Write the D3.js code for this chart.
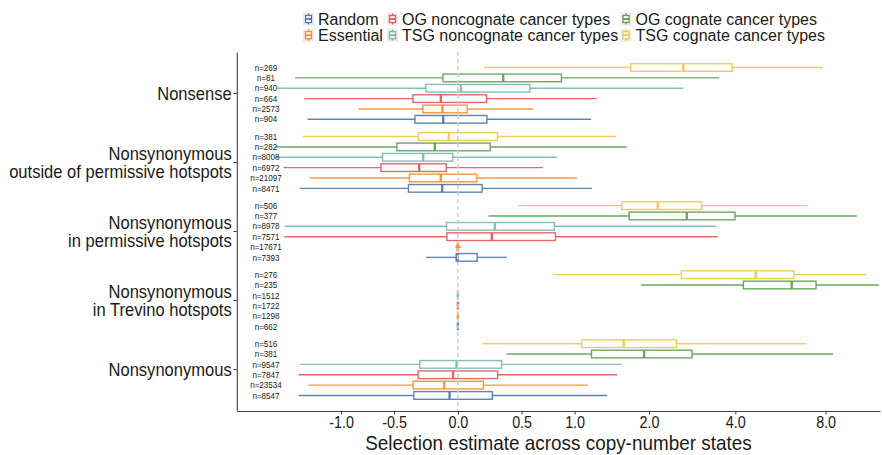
<!DOCTYPE html>
<html>
<head>
<meta charset="utf-8">
<script src="https://cdn.jsdelivr.net/npm/d3@7"></script>
<style>
  body { margin: 0; background: #fff; }
  text { font-family: "Liberation Sans", Arial, Helvetica, sans-serif; fill: #1a1a1a; }
</style>
</head>
<body>
<svg id="chart" width="882" height="455"></svg>
<script>
"use strict";

// categories, top to bottom
const categories = [
    "Nonsense",
    "Nonsynonymous\noutside of permissive hotspots",
    "Nonsynonymous\nin permissive hotspots",
    "Nonsynonymous\nin Trevino hotspots",
    "Nonsynonymous"
];

// series, in legend order
const series = [
    "Random",
    "Essential",
    "OG noncognate cancer types",
    "TSG noncognate cancer types",
    "OG cognate cancer types",
    "TSG cognate cancer types"
];
const seriesColors = ["#4e79a7", "#f28e2b", "#e15759", "#76b7b2", "#59a14f", "#edc948"];

// box stats per category: [low whisker, q1, median, q3, high whisker]
const randomStats = [
    [-1.395, -0.330, -0.111, 0.221, 1.185],
    [-1.501, -0.382, -0.119, 0.184, 1.193],
    [-0.242, -0.013, -0.003, 0.146, 0.378],
    [0, 0, 0, 0, 0],
    [-1.511, -0.339, -0.063, 0.263, 1.382]
];
const essentialStats = [
    [-0.823, -0.267, -0.117, 0.070, 0.597],
    [-1.369, -0.374, -0.129, 0.144, 1.024],
    [-0.020, -0.005, 0, 0.005, 0.025],
    [0, 0, 0, 0, 0],
    [-1.383, -0.345, -0.104, 0.194, 1.149]
];
const ogNoncognateStats = [
    [-1.438, -0.346, -0.129, 0.218, 1.252],
    [-1.731, -0.614, -0.296, -0.088, 0.686],
    [-1.716, -0.083, 0.259, 0.805, 3.487],
    [0, 0, 0, 0, 0],
    [-1.516, -0.305, -0.036, 0.305, 1.515]
];
const tsgNoncognateStats = [
    [-1.828, -0.244, 0.023, 0.571, 2.653],
    [-1.859, -0.600, -0.265, -0.038, 0.819],
    [-1.716, -0.086, 0.283, 0.795, 3.433],
    [0, 0, 0, 0, 0],
    [-1.487, -0.292, -0.010, 0.336, 1.580]
];
const ogCognateStats = [
    [-1.561, -0.113, 0.349, 0.864, 3.532],
    [-1.859, -0.477, -0.175, 0.246, 1.651],
    [0.233, 1.684, 2.727, 3.992, 10.13],
    [1.864, 4.259, 6.179, 7.438, 12.0],
    [0.376, 1.189, 1.917, 2.845, 8.466]
];
const tsgCognateStats = [
    [0.200, 1.710, 2.653, 3.900, 7.827],
    [-1.456, -0.302, -0.068, 0.303, 1.500],
    [0.474, 1.579, 2.152, 3.074, 6.960],
    [0.780, 2.611, 4.686, 6.288, 10.93],
    [0.185, 1.075, 1.606, 2.509, 6.913]
];

// sample sizes per category
const randomN = [904, 8471, 7393, 662, 8547];
const essentialN = [2573, 21097, 17671, 1298, 23534];
const ogNoncognateN = [664, 6972, 7571, 1722, 7847];
const tsgNoncognateN = [940, 8008, 8978, 1512, 9547];
const ogCognateN = [81, 282, 377, 235, 381];
const tsgCognateN = [269, 381, 506, 276, 516];

// x axis (asinh scale)
const xDomain = [-2.56, 12.09];
const xTicks = [-1, -0.5, 0, 0.5, 1, 2, 4, 8];
const xTickLabels = ["-1.0", "-0.5", "0.0", "0.5", "1.0", "2.0", "4.0", "8.0"];
const xTitle = "Selection estimate across copy-number states";

const stats = [randomStats, essentialStats, ogNoncognateStats, tsgNoncognateStats, ogCognateStats, tsgCognateStats];
const counts = [randomN, essentialN, ogNoncognateN, tsgNoncognateN, ogCognateN, tsgCognateN];

// layout
const plotLeft = 236.8, plotRight = 880, plotTop = 52, plotBottom = 411;
const SX = 0.88; // text in the reference is horizontally squeezed

const svg = d3.select("#chart");

const xt = d3.scaleLinear().domain(xDomain.map(Math.asinh)).range([plotLeft, plotRight]);
const x = v => xt(Math.asinh(v));

const y = d3.scaleBand().domain(categories).range([plotTop, plotBottom])
    .paddingInner(0).paddingOuter(0.1);
const yInner = d3.scaleBand().domain(series.slice().reverse())
    .range([0, y.bandwidth()]).paddingInner(0).paddingOuter(1 / 3);
const color = d3.scaleOrdinal().domain(series).range(seriesColors);

const boxH = yInner.bandwidth() * 0.74;

// flatten into one row per box
const rows = [];
series.forEach((s, si) => {
    categories.forEach((c, ci) => {
        const st = stats[si][ci];
        rows.push({
            s: s, c: c,
            lo: st[0], q1: st[1], med: st[2], q3: st[3], hi: st[4],
            n: counts[si][ci]
        });
    });
});
const rowY = d => y(d.c) + yInner(d.s) + yInner.bandwidth() / 2;

// boxes
const boxes = svg.append("g")
    .selectAll("g.box")
    .data(rows)
    .join("g")
    .attr("class", "box")
    .attr("transform", d => `translate(0,${rowY(d)})`)
    .attr("stroke", d => color(d.s))
    .attr("stroke-opacity", 0.9);

boxes.append("line")
    .attr("x1", d => x(d.lo)).attr("x2", d => x(d.q1))
    .attr("stroke-width", 1.4);
boxes.append("line")
    .attr("x1", d => x(d.q3)).attr("x2", d => x(d.hi))
    .attr("stroke-width", 1.4);
boxes.append("rect")
    .attr("x", d => x(d.q1))
    .attr("width", d => x(d.q3) - x(d.q1))
    .attr("y", -boxH / 2)
    .attr("height", boxH)
    .attr("fill", "#fff")
    .attr("stroke-width", 1.4);
boxes.append("line")
    .attr("x1", d => x(d.med)).attr("x2", d => x(d.med))
    .attr("y1", -boxH / 2).attr("y2", boxH / 2)
    .attr("stroke-width", 2.4);

// dashed zero line
svg.append("line")
    .attr("x1", x(0)).attr("x2", x(0))
    .attr("y1", plotTop).attr("y2", plotBottom)
    .attr("stroke", "#cfcfcf")
    .attr("stroke-width", 1.6)
    .attr("stroke-dasharray", "4,3");

// n labels
svg.append("g")
    .selectAll("text")
    .data(rows)
    .join("text")
    .attr("transform", d => `translate(266,${rowY(d)}) scale(0.9,1)`)
    .attr("text-anchor", "middle")
    .attr("dy", "0.35em")
    .style("font-size", "9px")
    .text(d => "n=" + d.n);

// x axis
const xAxis = svg.append("g")
    .attr("transform", `translate(0,${plotBottom})`)
    .call(d3.axisBottom(xt)
        .tickValues(xTicks.map(Math.asinh))
        .tickFormat((d, i) => xTickLabels[i])
        .tickSize(3.5)
        .tickSizeOuter(0)
        .tickPadding(1.5));
xAxis.select(".domain").attr("stroke", "#444").attr("stroke-width", 1.1);
xAxis.selectAll(".tick line").attr("stroke", "#444");
xAxis.selectAll(".tick text")
    .attr("transform", `scale(${SX},1)`)
    .style("font-size", "16.3px")
    .attr("fill", "#1a1a1a");

// y axis, multi-line labels
const yAxis = svg.append("g")
    .attr("transform", `translate(${plotLeft},0)`)
    .call(d3.axisLeft(y).tickSize(3.5).tickSizeOuter(0).tickPadding(2));
yAxis.select(".domain").attr("stroke", "#444").attr("stroke-width", 1.1);
yAxis.selectAll(".tick line").attr("stroke", "#444");
const lineH = 18.5;
yAxis.selectAll(".tick text")
    .attr("transform", "scale(0.92,1)")
    .attr("dy", null)
    .style("font-size", "18px")
    .attr("fill", "#1a1a1a")
    .each(function (d) {
        const t = d3.select(this);
        const xPos = t.attr("x");
        const lines = d.split("\n");
        t.text(null);
        lines.forEach((ln, i) => {
            t.append("tspan")
                .attr("x", xPos)
                .attr("dy", i === 0 ? (6.3 - (lines.length - 1) * lineH / 2) : lineH)
                .text(ln);
        });
    });

// x title
svg.append("text")
    .attr("transform", `translate(${(plotLeft + plotRight) / 2},450.3) scale(0.9,1)`)
    .attr("text-anchor", "middle")
    .style("font-size", "21px")
    .text(xTitle);

// legend, two rows filled column-wise
const legendCols = [303, 387, 620.5];
const legendRows = [19, 35.2];
const legend = svg.append("g")
    .selectAll("g")
    .data(series)
    .join("g")
    .attr("transform", (d, i) => `translate(${legendCols[Math.floor(i / 2)]},${legendRows[i % 2]})`);

legend.append("rect")
    .attr("x", 0).attr("y", -6.5)
    .attr("width", 11).attr("height", 13)
    .attr("fill", "#ececec");
legend.append("line")
    .attr("x1", 5.5).attr("x2", 5.5)
    .attr("y1", -5.5).attr("y2", 5.5)
    .attr("stroke", d => color(d)).attr("stroke-width", 1.3);
legend.append("rect")
    .attr("x", 2.5).attr("y", -3.5)
    .attr("width", 6).attr("height", 7)
    .attr("fill", "#fff")
    .attr("stroke", d => color(d)).attr("stroke-width", 1.3);
legend.append("line")
    .attr("x1", 2.5).attr("x2", 8.5)
    .attr("y1", 0).attr("y2", 0)
    .attr("stroke", d => color(d)).attr("stroke-width", 1.8);
legend.append("text")
    .attr("x", 15)
    .attr("dy", "0.36em")
    .style("font-size", "16px")
    .text(d => d);
</script>
</body>
</html>
